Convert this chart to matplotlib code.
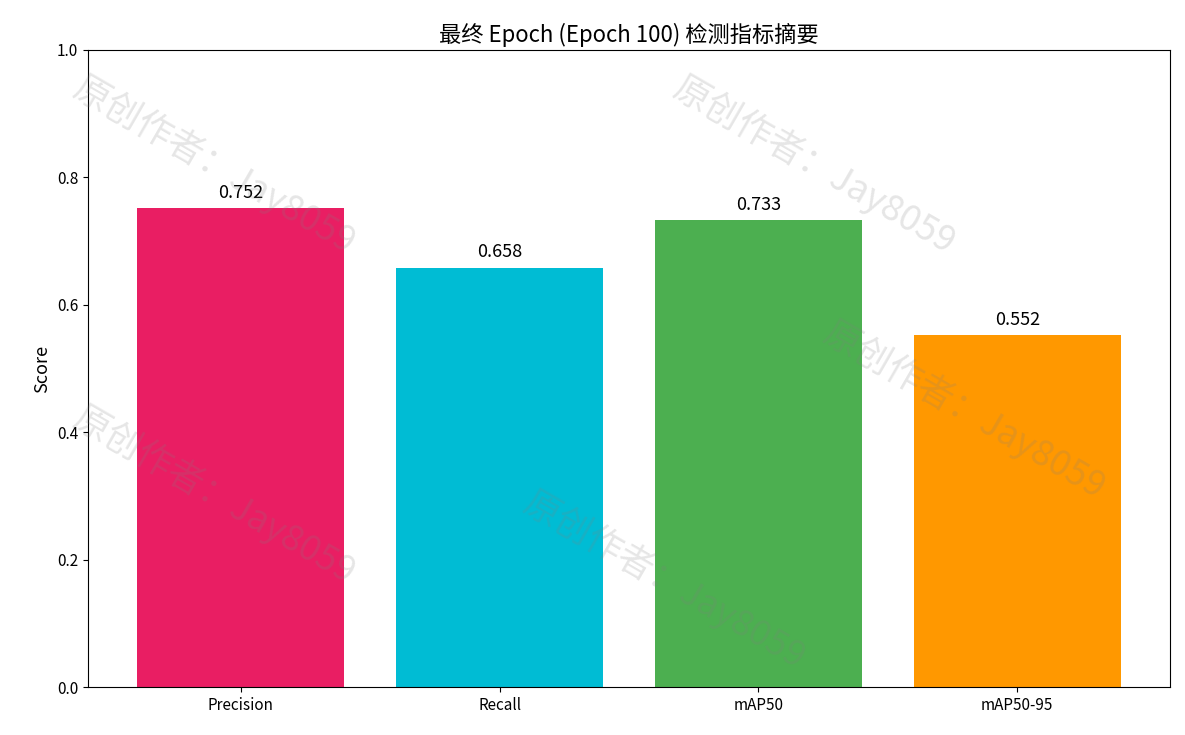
import matplotlib
matplotlib.use("Agg")
import matplotlib.pyplot as plt

plt.rcParams['font.family'] = ['Noto Sans CJK SC', 'DejaVu Sans']

metrics = ["Precision", "Recall", "mAP50", "mAP50-95"]
values = [0.752, 0.658, 0.733, 0.552]
colors = ["#E91E63", "#00BCD4", "#4CAF50", "#FF9800"]

fig = plt.figure(figsize=(11.85, 7.35), dpi=100)
ax = fig.add_axes([88/1185, 48/735, (1170-88)/1185, (687-50)/735])
bars = ax.bar(metrics, values, color=colors, width=0.8)
for b, v in zip(bars, values):
    ax.text(b.get_x() + b.get_width()/2, v + 0.01, f"{v:.3f}", ha="center", va="bottom", fontsize=13)
ax.set_ylim(0, 1.0)
ax.set_ylabel("Score", fontsize=13)
ax.set_title("最终 Epoch (Epoch 100) 检测指标摘要", fontsize=16)
ax.tick_params(labelsize=11)

for x, y in [(215, 165), (815, 165), (965, 410), (215, 495), (665, 580)]:
    fig.text(x/1185, 1 - y/735, "原创作者：Jay8059", fontsize=26, color="gray", alpha=0.2,
             rotation=-30, ha="center", va="center")

fig.savefig("out.png", dpi=100)
